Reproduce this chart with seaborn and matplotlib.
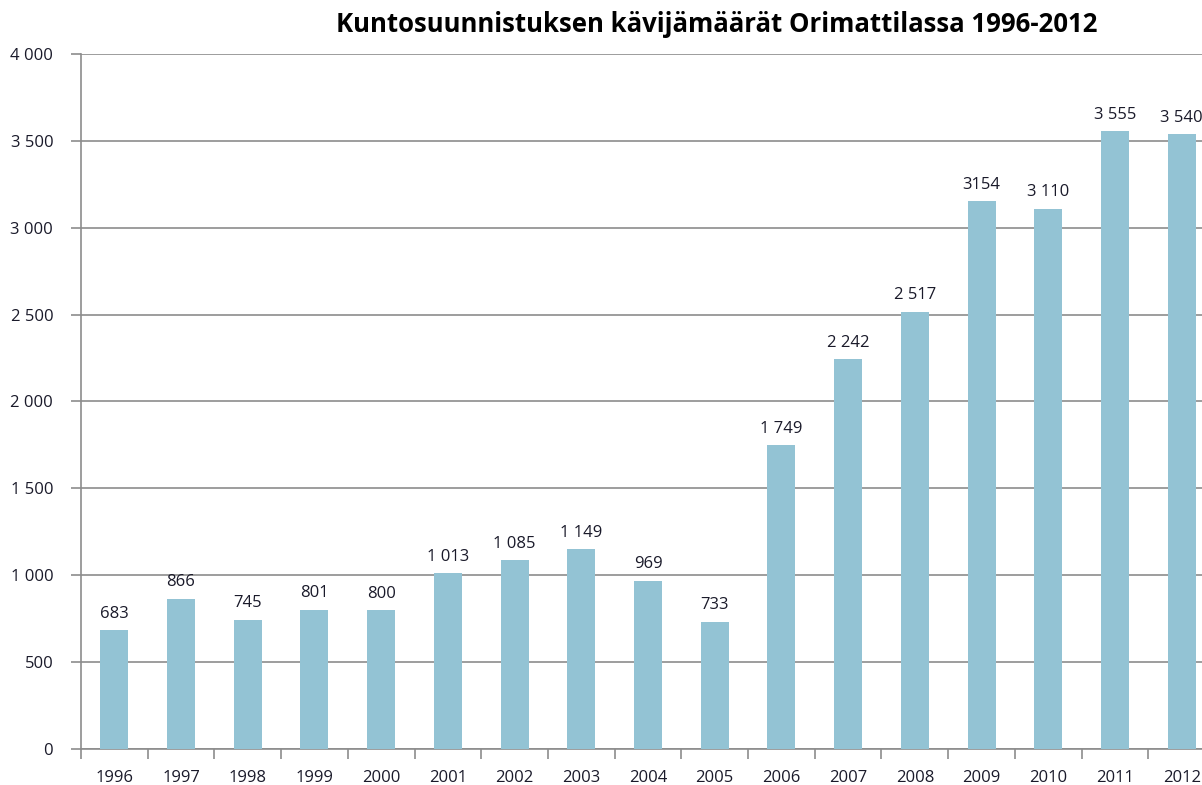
import matplotlib
matplotlib.use("Agg")
import matplotlib.pyplot as plt
import seaborn as sns
import pandas as pd
import numpy as np

years = ["1996", "1997", "1998", "1999", "2000", "2001", "2002", "2003", "2004",
         "2005", "2006", "2007", "2008", "2009", "2010", "2011", "2012"]
visitors = [683, 866, 745, 801, 800, 1013, 1085, 1149, 969, 733, 1749, 2242,
            2517, 3154, 3110, 3555, 3540]
value_labels = ["683", "866", "745", "801", "800", "1 013", "1 085", "1 149", "969",
                "733", "1 749", "2 242", "2 517", "3154", "3 110", "3 555", "3 540"]
y_ticks = [0, 500, 1000, 1500, 2000, 2500, 3000, 3500, 4000]
y_tick_labels = ["0", "500", "1 000", "1 500", "2 000", "2 500", "3 000", "3 500", "4 000"]
title = "Kuntosuunnistuksen kävijämäärät Orimattilassa 1996-2012"

sns.set_style("white")
plt.rcParams["font.family"] = ["Open Sans", "DejaVu Sans"]

W, H = 1202, 785
fig = plt.figure(figsize=(W / 100, H / 100), dpi=100)
ax = fig.add_axes([81 / W, 36 / H, (1215 - 81) / W, 695 / H])

df = pd.DataFrame({"year": years, "visitors": visitors})
sns.barplot(data=df, x="year", y="visitors", color="#93C3D4", saturation=1,
            width=0.42, ax=ax, zorder=3, linewidth=0, edgecolor="none")

grid_c = "#8C8C8C"
text_c = "#1A1A2A"
ax.set_xlim(-0.5, len(years) - 0.5)
ax.set_ylim(0, 4000)
ax.set_yticks(y_ticks)
ax.set_yticklabels(y_tick_labels)
ax.yaxis.grid(True, color=grid_c, linewidth=1.2, zorder=0)
ax.set_axisbelow(True)
for s in ["top", "right"]:
    ax.spines[s].set_visible(False)
for s in ["left", "bottom"]:
    ax.spines[s].set_color(grid_c)
    ax.spines[s].set_linewidth(1.2)

ax.set_xticks(np.arange(-0.5, len(years) + 0.5, 1), minor=True)
ax.tick_params(axis="x", which="major", bottom=True, length=0, pad=15, labelsize=12,
               labelcolor=text_c)
ax.tick_params(axis="x", which="minor", bottom=True, length=7, width=1.2, color=grid_c,
               direction="out")
ax.tick_params(axis="y", which="major", left=True, length=7, width=1.2, color=grid_c,
               direction="out", pad=13, labelsize=12, labelcolor=text_c)
ax.set_xlabel("")
ax.set_ylabel("")

ax.bar_label(ax.containers[0], labels=value_labels, padding=6, fontsize=12, color=text_c)

fig.text(717 / W, 1 - 25 / H, title, ha="center", va="center", fontsize=18.5,
         fontweight="bold", color="#000000")

fig.savefig("out.png", dpi=100)
